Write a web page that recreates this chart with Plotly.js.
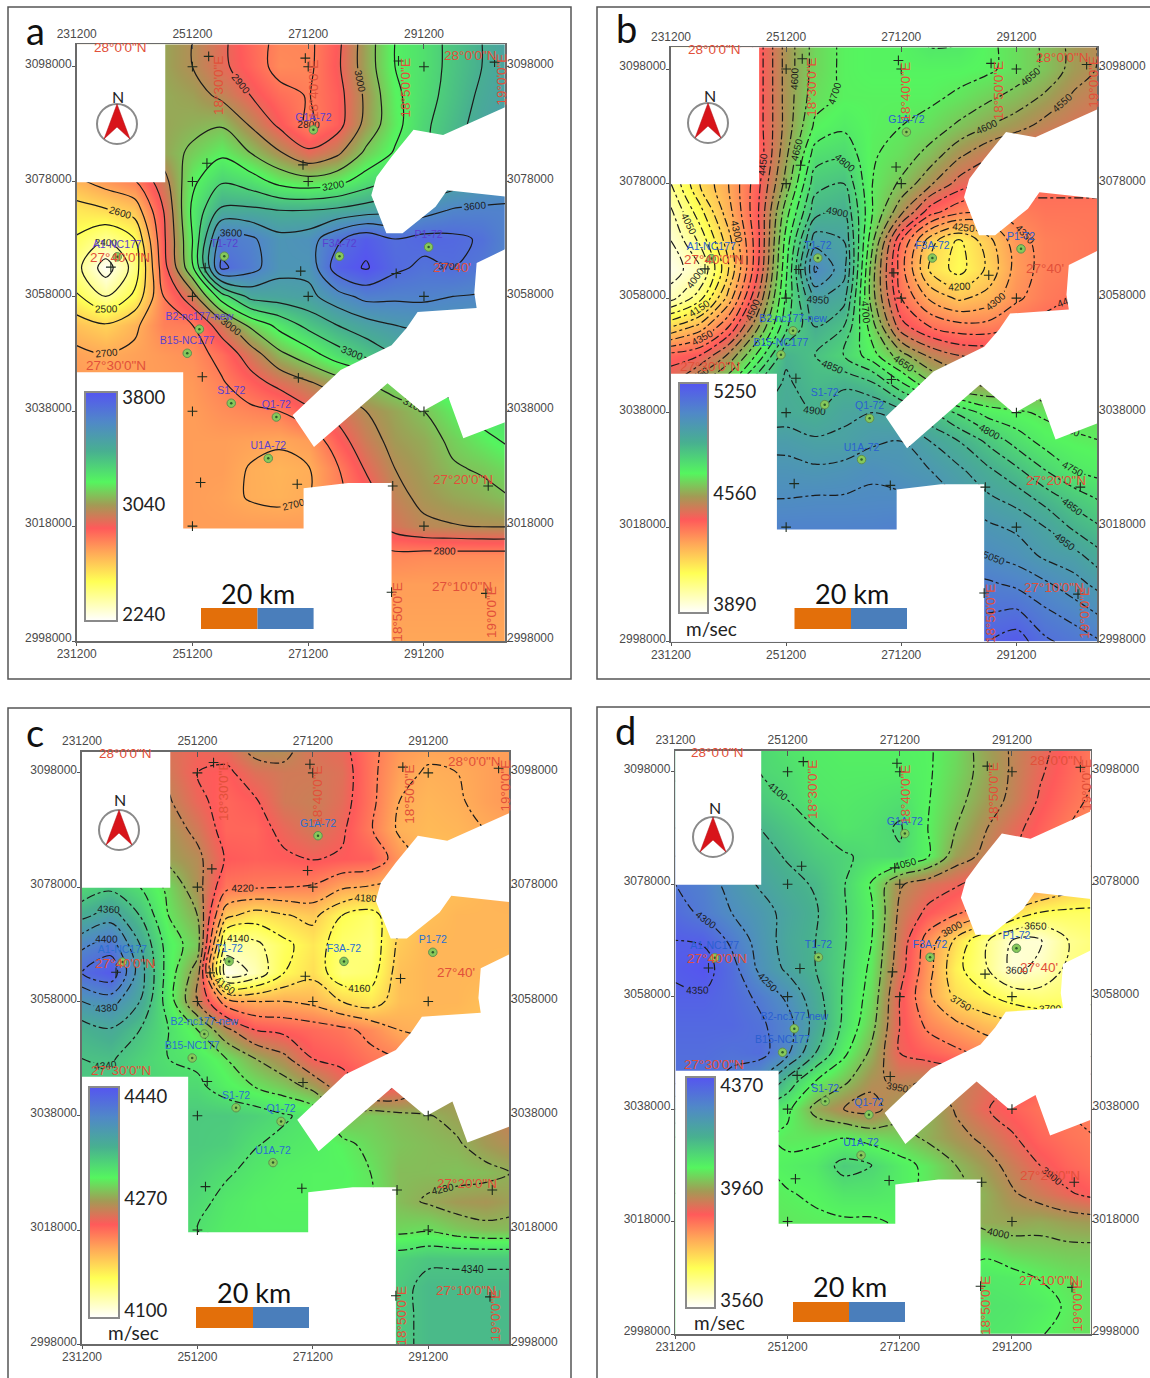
<!DOCTYPE html>
<html><head><meta charset="utf-8">
<script src="https://cdn.plot.ly/plotly-3.0.1.min.js"></script>
<style>html,body{margin:0;padding:0;background:#fff}</style></head>
<body><div id="chart" style="width:1150px;height:1378px"></div>
<script>
const gridX=[231200,236200,241200,246200,251200,256200,261200,266200,271200,276200,281200,286200,291200,296200,301200,306200];
const gridY=[3103000,3098000,3093000,3088000,3083000,3078000,3073000,3068000,3063000,3058000,3053000,3048000,3043000,3038000,3033000,3028000,3023000,3018000,3013000,3008000,3003000,2998000];
const tickX=[231200,251200,271200,291200];
const tickY=[3098000,3078000,3058000,3038000,3018000,2998000];

const zA=[
[3000,3000,3020,3050,3000,2920,2840,2780,2780,2870,3050,3200,3250,3330,3400,3470],
[2950,2960,3000,3050,3000,2920,2850,2770,2780,2880,3050,3200,3250,3330,3400,3470],
[2900,2930,2990,3060,3040,2980,2900,2830,2795,2860,3020,3180,3260,3340,3420,3480],
[2850,2900,2980,3050,3070,3090,2990,2880,2785,2860,3030,3170,3280,3360,3440,3500],
[2800,2860,2950,3050,3120,3180,3100,3010,2920,2980,3120,3210,3290,3380,3460,3520],
[2680,2740,2790,2960,3180,3290,3250,3170,3140,3170,3250,3320,3400,3450,3500,3540],
[2560,2590,2640,2900,3220,3420,3420,3400,3400,3420,3450,3480,3560,3610,3620,3620],
[2490,2410,2500,2880,3200,3650,3620,3530,3550,3680,3770,3700,3730,3720,3690,3600],
[2430,2250,2440,2860,3180,3720,3640,3530,3530,3750,3810,3720,3680,3700,3660,3600],
[2510,2400,2520,2800,2960,3250,3430,3450,3470,3560,3630,3620,3620,3600,3590,3580],
[2650,2610,2680,2790,2800,2950,3120,3230,3330,3400,3460,3500,3520,3530,3530,3530],
[2720,2700,2720,2740,2760,2830,2950,3080,3160,3260,3330,3400,3440,3450,3450,3450],
[2740,2730,2730,2730,2740,2790,2860,2930,2990,3050,3100,3150,3200,3250,3280,3300],
[2740,2740,2740,2740,2730,2760,2780,2800,2880,2930,3000,3050,3100,3170,3240,3260],
[2740,2740,2740,2740,2730,2730,2720,2710,2730,2860,2960,3030,3060,3120,3170,3220],
[2740,2740,2740,2740,2730,2730,2695,2680,2695,2790,2910,3000,3040,3090,3110,3150],
[2740,2740,2740,2740,2730,2720,2695,2685,2700,2780,2850,2975,3020,3050,3070,3100],
[2740,2740,2740,2740,2730,2730,2730,2730,2730,2780,2840,2940,2985,2995,3005,3005],
[2740,2740,2740,2740,2730,2730,2730,2730,2730,2750,2770,2780,2770,2770,2770,2770],
[2730,2730,2730,2730,2730,2730,2730,2730,2730,2730,2730,2730,2730,2730,2730,2730],
[2720,2720,2720,2720,2720,2720,2720,2720,2720,2720,2720,2720,2720,2720,2720,2720],
[2710,2710,2710,2710,2710,2710,2710,2710,2710,2710,2710,2710,2710,2710,2710,2710]];

const zB=[
[4150,4200,4300,4420,4570,4670,4710,4720,4720,4760,4755,4710,4680,4640,4580,4540],
[4150,4200,4300,4420,4570,4670,4710,4720,4720,4720,4720,4710,4680,4640,4580,4540],
[4120,4200,4300,4420,4570,4680,4710,4710,4710,4710,4690,4660,4630,4590,4540,4510],
[4100,4180,4290,4420,4570,4710,4740,4710,4700,4680,4640,4600,4570,4530,4500,4480],
[4060,4170,4290,4410,4590,4775,4790,4705,4680,4630,4560,4510,4470,4450,4440,4430],
[4050,4200,4300,4430,4620,4830,4850,4700,4640,4560,4480,4440,4430,4410,4410,4410],
[3990,4130,4280,4440,4680,4880,4900,4700,4560,4420,4360,4340,4370,4390,4390,4390],
[3950,4060,4230,4430,4720,4980,4950,4660,4400,4220,4140,4230,4330,4370,4380,4390],
[3920,3990,4200,4440,4740,5060,4970,4620,4370,4190,4130,4210,4320,4370,4380,4390],
[3980,4080,4270,4500,4760,4960,4920,4620,4400,4290,4240,4270,4340,4380,4400,4400],
[4200,4270,4400,4590,4790,4900,4850,4670,4470,4400,4370,4370,4400,4420,4430,4430],
[4420,4450,4560,4710,4890,4850,4800,4720,4620,4540,4500,4490,4490,4490,4490,4490],
[4500,4600,4700,4850,4910,4870,4890,4860,4760,4660,4600,4590,4590,4590,4590,4590],
[4700,4800,4850,4900,4920,4900,4940,4950,4920,4860,4790,4730,4710,4690,4680,4680],
[4900,4950,4970,4980,4980,4960,4960,4990,5000,4950,4900,4840,4780,4730,4710,4700],
[5000,5010,5020,5020,5020,5010,5020,5040,5020,5000,4960,4910,4860,4800,4750,4730],
[5050,5050,5050,5050,5050,5055,5055,5060,5060,5040,5000,4960,4930,4880,4830,4790],
[5090,5090,5090,5090,5090,5090,5090,5090,5100,5060,5040,5010,4990,4950,4890,4850],
[5100,5100,5100,5100,5100,5100,5100,5100,5100,5090,5070,5050,5030,4990,4970,4910],
[5120,5120,5120,5120,5120,5120,5120,5120,5120,5120,5120,5110,5090,5060,5020,4980],
[5150,5150,5150,5150,5150,5150,5150,5150,5150,5150,5150,5150,5160,5110,5080,5040],
[5200,5200,5200,5200,5200,5200,5200,5200,5200,5200,5200,5200,5230,5160,5130,5100]];

const zC=[
[4262,4260,4255,4250,4245,4250,4270,4268,4250,4245,4225,4210,4205,4205,4205,4205],
[4262,4260,4258,4255,4240,4236,4250,4255,4255,4250,4225,4205,4198,4200,4205,4210],
[4265,4265,4265,4262,4245,4232,4238,4255,4258,4248,4225,4200,4195,4198,4205,4210],
[4270,4270,4270,4270,4255,4232,4232,4245,4255,4243,4222,4197,4193,4195,4200,4205],
[4290,4300,4290,4275,4265,4238,4235,4237,4241,4238,4235,4210,4190,4190,4190,4195],
[4325,4335,4320,4295,4268,4225,4222,4220,4218,4203,4198,4195,4190,4190,4195,4200],
[4355,4370,4340,4300,4280,4185,4170,4178,4185,4160,4150,4180,4190,4195,4195,4195],
[4395,4410,4360,4310,4290,4130,4135,4155,4170,4150,4145,4185,4195,4195,4195,4195],
[4420,4435,4370,4310,4270,4105,4125,4160,4175,4145,4150,4190,4195,4195,4195,4190],
[4380,4388,4360,4310,4260,4210,4200,4200,4195,4180,4170,4190,4195,4195,4190,4190],
[4350,4358,4340,4320,4300,4265,4240,4235,4230,4225,4215,4200,4195,4190,4190,4190],
[4340,4342,4330,4320,4315,4300,4280,4265,4240,4235,4225,4220,4210,4200,4200,4200],
[4335,4335,4330,4325,4325,4310,4300,4290,4275,4250,4235,4240,4260,4270,4270,4270],
[4335,4335,4335,4335,4335,4335,4330,4322,4315,4285,4290,4285,4281,4275,4265,4255],
[4335,4335,4335,4335,4335,4332,4321,4316,4312,4305,4295,4288,4285,4282,4272,4265],
[4335,4335,4335,4335,4330,4322,4315,4310,4308,4308,4300,4285,4285,4287,4285,4279],
[4330,4330,4330,4330,4325,4315,4310,4308,4308,4306,4302,4285,4278,4272,4270,4275],
[4330,4330,4330,4330,4320,4312,4310,4310,4310,4305,4300,4295,4298,4290,4285,4285],
[4335,4335,4335,4335,4335,4335,4335,4335,4335,4335,4335,4330,4337,4337,4337,4337],
[4335,4335,4335,4335,4335,4335,4335,4335,4335,4335,4335,4335,4345,4345,4345,4345],
[4335,4335,4335,4335,4335,4335,4335,4335,4335,4335,4335,4335,4345,4345,4345,4345],
[4335,4335,4335,4335,4335,4335,4335,4335,4335,4335,4335,4335,4345,4345,4345,4345]];

const zD=[
[4140,4140,4130,4100,4075,4065,4060,4060,4058,4055,4030,3980,3945,3915,3880,3850],
[4140,4140,4130,4100,4090,4070,4065,4065,4065,4055,4025,3985,3945,3905,3875,3850],
[4170,4170,4150,4120,4100,4075,4070,4075,4085,4053,4015,3975,3940,3895,3865,3840],
[4200,4190,4170,4150,4125,4100,4075,4085,4105,4050,4000,3955,3915,3880,3850,3830],
[4250,4240,4210,4170,4145,4120,4105,4090,4095,4055,3975,3940,3900,3870,3840,3820],
[4300,4280,4230,4195,4165,4145,4103,4045,3955,3925,3905,3880,3850,3820,3780,3750],
[4320,4290,4250,4220,4185,4155,4105,4055,3940,3890,3860,3820,3740,3700,3690,3690],
[4350,4345,4290,4230,4180,4150,4105,4050,3930,3830,3740,3660,3600,3595,3650,3670],
[4355,4370,4320,4240,4190,4150,4100,4040,3920,3820,3715,3660,3590,3610,3660,3680],
[4345,4345,4325,4290,4240,4170,4095,4030,3900,3810,3740,3710,3680,3670,3680,3690],
[4330,4330,4330,4310,4270,4180,4090,4015,3900,3840,3810,3780,3760,3740,3730,3730],
[4320,4320,4310,4320,4260,4150,4060,3990,3900,3880,3860,3840,3820,3800,3790,3790],
[4310,4310,4290,4240,4130,4050,4010,3960,3940,3950,3940,3920,3900,3880,3870,3870],
[4200,4200,4150,4100,4060,3985,3950,3935,3975,3995,3945,3905,3880,3860,3850,3850],
[4100,4100,4080,4060,4040,4040,4048,4030,4020,3990,3965,3940,3905,3875,3860,3850],
[4060,4060,4060,4050,4060,4070,4115,4100,4065,4040,4000,3970,3935,3900,3875,3860],
[4050,4050,4050,4040,4048,4055,4075,4075,4065,4040,4010,3990,3955,3930,3905,3885],
[4040,4040,4040,4040,4040,4045,4045,4045,4055,4040,4020,3985,3980,3985,3975,3970],
[4040,4040,4040,4040,4040,4040,4040,4040,4040,4040,4040,4040,4020,4015,4010,4010],
[4050,4050,4050,4050,4050,4050,4050,4050,4050,4050,4050,4070,4065,4048,4035,4030],
[4060,4060,4060,4060,4060,4060,4060,4060,4060,4060,4060,4080,4075,4065,4045,4030],
[4060,4060,4060,4060,4060,4060,4060,4060,4060,4060,4060,4075,4070,4052,4040,4030]];

const blank1X=[231200,246500,246500,231200];
const blank1Y=[3102500,3102500,3077900,3077900];
const blank2X=[289400,285600,283000,282100,284700,287500,293200,295200,306000,306000,294500];
const blank2Y=[3087000,3082300,3078800,3075600,3069000,3069000,3073600,3076500,3075300,3091300,3086100];
const blank3X=[306000,300300,299900,300300,290100,288200,285600,276800,268500,272200,284900,290800,295400,298000,306000];
const blank3Y=[3066600,3063800,3058600,3056000,3055300,3052500,3049500,3045200,3037300,3031800,3042900,3037900,3040500,3033300,3036400];
const blank4X=[231200,249600,249600,270400,270400,278100,285600,285600,231200];
const blank4Y=[3044800,3044800,3017600,3017600,3024600,3025500,3025500,2997800,2997800];

const crossX=[251200,271200,291200,254000,270700,286800,303400,253700,270300,251200,271200,237100,253400,269900,286400,251200,271200,291200,252900,269500,251200,291200,252600,269300,285800,302300,251200,291200,285600,301900];
const crossY=[3098000,3098000,3098000,3099800,3099500,3099000,3098800,3081200,3080900,3078000,3078000,3063100,3063000,3062400,3062000,3058000,3058000,3058000,3044000,3043800,3038000,3038000,3025600,3025300,3025000,3025000,3018000,3018000,3006500,3006300];
const wellNames=["G1A-72","A1-NC177","T1-72","F3A-72","P1-72","B2-nc177-new","B15-NC177","S1-72","Q1-72","U1A-72"];
const wellX=[272100,238200,256700,276600,292000,252400,250300,257900,265700,264300];
const wellY=[3087000,3064900,3065000,3065000,3066600,3052300,3048100,3039400,3037000,3029800];

const gridText=["28°0'0\"N","28°0'0\"N","27°40'0\"N","27°40'","27°30'0\"N","27°20'0\"N","27°10'0\"N","18°30'0\"E","18°40'0\"E","18°50'0\"E","19°0'0\"E","18°50'0\"E","19°0'0\"E"];
const gridTextX=[238700,299200,238700,296100,238000,298000,297800,255600,272100,288000,304600,286600,302900];
const gridTextY=[3101400,3100000,3064700,3063100,3046000,3026200,3007500,3094800,3094000,3094300,3095700,3003000,3003000];
const gridTextAngle=[0,0,0,0,0,0,0,-90,-90,-90,-90,-90,-90];

const velocityScale=[[0,'#ffffff'],[0.173,'#ffff55'],[0.30,'#ffa858'],[0.405,'#ff5a5a'],[0.506,'#a39a55'],[0.607,'#55f55f'],[0.74,'#48b090'],[0.87,'#5088c8'],[1,'#5555f0']];

const W=1150,H=1378;
const fx=p=>p/W, fy=p=>1-p/H;
const panels=[
 {n:1,tag:'a',z:zA,zmin:2240,zmid:3040,zmax:3800,lo:2300,hi:3800,step:100,dash:'solid',left:76.7,right:505,top:44.3,bottom:641,ymax:3101900,
  bar:[85,116.5,392,621],barLabels:[615,505,398],frame:[8,7,571,679],letter:[35,30],north:[117,124],nLabel:[118,97],km:[258,593],scale:[201,257.5,313.6,608,629],unit:null,wellColor:'#5a3fd0',midLine:false},
 {n:2,tag:'b',z:zB,zmin:3890,zmid:4560,zmax:5250,lo:3950,hi:5250,step:50,dash:'dashdot',left:671,right:1097,top:47.3,bottom:641.7,ymax:3101800,
  bar:[679,708,383,613],barLabels:[605,494,392],frame:[597,7,1160,679],letter:[626,28],north:[708,123],nLabel:[710,95],km:[852,593],scale:[794.5,851,907,608,629],unit:[711,629],wellColor:'#2a5fd0',midLine:false},
 {n:3,tag:'c',z:zC,zmin:4100,zmid:4270,zmax:4440,lo:4120,hi:4420,step:20,dash:'dashdot',left:82,right:509,top:751.7,bottom:1344.3,ymax:3101700,
  bar:[89,119,1087,1318],barLabels:[1311,1199,1097],frame:[8,708,571,1390],letter:[35,732],north:[119,830],nLabel:[120,799],km:[254,1292],scale:[196,253,309,1307,1328],unit:[133,1332],wellColor:'#2a6fd0',midLine:'#777'},
 {n:4,tag:'d',z:zD,zmin:3560,zmid:3960,zmax:4370,lo:3600,hi:4350,step:50,dash:'dashdot',left:675.4,right:1090.5,top:750.7,bottom:1334,ymax:3101740,
  bar:[686,715,1077,1308],barLabels:[1301,1189,1086],frame:[597,707,1160,1390],letter:[625,730],north:[713,837],nLabel:[715,807],km:[850,1286],scale:[793,849,905,1302,1322],unit:[719,1322],wellColor:'#2a5fd0',midLine:'#333'}
];

const data=[],shapes=[],annotations=[],layout={width:W,height:H,margin:{l:0,r:0,t:0,b:0},autosize:false,paper_bgcolor:'#fff',plot_bgcolor:'#fff',showlegend:false,font:{family:'Liberation Sans'},shapes,annotations};
const axisFont={family:'Liberation Sans',size:12,color:'#4a4a4a'};
const xRange=[231200,305200];
const common={tickformat:'d',tickcolor:'#555',showgrid:false,zeroline:false,showline:true,linecolor:'#6a6a6a',linewidth:1.6,tickfont:axisFont};
const note=(o)=>annotations.push(Object.assign({showarrow:false,xanchor:'center',yanchor:'middle',xref:'paper',yref:'paper'},o));

panels.forEach(p=>{
  const s=p.n===1?'':String(p.n), t=String(p.n+4);
  const xa='x'+s, ya='y'+s, xb='x'+t, yb='y'+t;
  const dom={x:[fx(p.left),fx(p.right)],y:[fy(p.bottom),fy(p.top)]};
  const yRange=[2998000,p.ymax];
  layout['xaxis'+s]=Object.assign({},common,{domain:dom.x,range:xRange,anchor:ya,tickvals:tickX,ticks:'outside',ticklen:3,ticklabelstandoff:-2});
  layout['yaxis'+s]=Object.assign({},common,{domain:dom.y,range:yRange,anchor:xa,tickvals:tickY,ticks:'outside',ticklen:3,ticklabelshift:-3,ticklabelstandoff:-2});
  layout['xaxis'+t]=Object.assign({},common,{overlaying:xa,side:'top',range:xRange,anchor:yb,tickvals:tickX,ticks:'inside',ticklen:5});
  layout['yaxis'+t]=Object.assign({},common,{overlaying:ya,side:'right',range:yRange,anchor:xb,tickvals:tickY,ticks:'outside',ticklen:2,ticklabelshift:-3,ticklabelstandoff:-4});

  const [b0,b1,bt,bb]=p.bar;
  const toVal=y=>p.zmin+(bb-y)/(bb-bt)*(p.zmax-p.zmin);
  data.push({type:'heatmap',x:gridX,y:gridY,z:p.z,xaxis:xa,yaxis:ya,zsmooth:'best',zmin:p.zmin,zmax:p.zmax,colorscale:velocityScale,hoverinfo:'skip',
    colorbar:{x:fx(b0),xanchor:'left',y:fy((bt+bb)/2),yanchor:'middle',lenmode:'pixels',len:bb-bt,thicknessmode:'pixels',thickness:b1-b0,xpad:0,ypad:0,outlinecolor:'#8a8a8a',outlinewidth:2,ticks:'',tickvals:p.barLabels.map(toVal),ticktext:[p.zmin,p.zmid,p.zmax].map(String),tickfont:{family:'Lato',size:18.5,color:'#222'}}});
  data.push({type:'contour',x:gridX,y:gridY,z:p.z,xaxis:xa,yaxis:ya,showscale:false,hoverinfo:'skip',
    contours:{coloring:'none',start:p.lo,end:p.hi,size:p.step,showlabels:true,labelfont:{family:'Liberation Sans',size:10,color:'#1b1b1b'}},
    line:{color:'#1b1b1b',width:1.2,dash:p.dash,smoothing:1}});
  [[blank1X,blank1Y],[blank2X,blank2Y],[blank3X,blank3Y],[blank4X,blank4Y]].forEach(([bx,by])=>{
    data.push({type:'scatter',mode:'lines',x:bx,y:by,xaxis:xa,yaxis:ya,fill:'toself',fillcolor:'#fff',line:{width:0,color:'#fff'},hoverinfo:'skip'});
  });
  data.push({type:'scatter',mode:'markers',x:crossX,y:crossY,xaxis:xb,yaxis:yb,marker:{symbol:'cross-thin',size:7,line:{width:1.1,color:'#1d2a1d'}},hoverinfo:'skip'});
  data.push({type:'scatter',mode:'markers+text',x:wellX,y:wellY,xaxis:xb,yaxis:yb,text:wellNames,textposition:'top center',textfont:{family:'Liberation Sans',size:10.5,color:p.wellColor},marker:{symbol:'circle',size:8.5,color:'#86c95a',line:{width:1,color:'#5f8f50'}},hoverinfo:'skip'});
  data.push({type:'scatter',mode:'markers',x:wellX,y:wellY,xaxis:xb,yaxis:yb,marker:{symbol:'circle',size:2.5,color:'#2c5a2c'},hoverinfo:'skip'});

  gridText.forEach((txt,i)=>note({xref:xa,yref:ya,x:gridTextX[i],y:gridTextY[i],text:txt,textangle:gridTextAngle[i],font:{family:'Liberation Sans',size:13.5,color:'#e2503a'}}));

  const f=p.frame;
  shapes.push({type:'rect',xref:'paper',yref:'paper',x0:fx(f[0]),x1:fx(f[2]),y0:fy(f[1]),y1:fy(f[3]),line:{color:'#555',width:1.5},layer:'below'});
  note({x:fx(p.letter[0]),y:fy(p.letter[1]),text:p.tag,font:{family:'Lato',size:38,color:'#111'}});

  const [cx,cy]=p.north;
  shapes.push({type:'circle',xref:'paper',yref:'paper',x0:fx(cx-20),x1:fx(cx+20),y0:fy(cy-20),y1:fy(cy+20),line:{color:'#8a8a8a',width:2},fillcolor:'#fff'});
  const pt=(dx,dy)=>fx(cx+dx)+','+fy(cy+dy);
  shapes.push({type:'path',xref:'paper',yref:'paper',path:'M'+pt(0,-20)+' L'+pt(-13,15)+' L'+pt(0,3)+' L'+pt(13,15)+' Z',fillcolor:'#d8141a',line:{color:'#b01015',width:0.5}});
  note({x:fx(p.nLabel[0]),y:fy(p.nLabel[1]),text:'N',font:{family:'Lato',size:16,color:'#222'}});

  const [s0,s1,s2,sTop,sBot]=p.scale;
  shapes.push({type:'rect',xref:'paper',yref:'paper',x0:fx(s0),x1:fx(s1),y0:fy(sTop),y1:fy(sBot),fillcolor:'#e36f0a',line:{width:0}});
  shapes.push({type:'rect',xref:'paper',yref:'paper',x0:fx(s1),x1:fx(s2),y0:fy(sTop),y1:fy(sBot),fillcolor:'#4a7ebb',line:{width:0}});
  note({x:fx(p.km[0]),y:fy(p.km[1]),text:'20 km',font:{family:'Lato',size:27,color:'#111'}});
  if(p.unit) note({x:fx(p.unit[0]),y:fy(p.unit[1]),text:'m/sec',font:{family:'Lato',size:19,color:'#222'}});
  if(p.midLine){
    const yMid=bb-(p.zmid-p.zmin)/(p.zmax-p.zmin)*(bb-bt);
    shapes.push({type:'line',xref:'paper',yref:'paper',x0:fx(b0),x1:fx(b1),y0:fy(yMid),y1:fy(yMid),line:{color:p.midLine,width:1.5}});
  }
});

Plotly.newPlot('chart',data,layout,{staticPlot:true,displayModeBar:false});
</script></body></html>
